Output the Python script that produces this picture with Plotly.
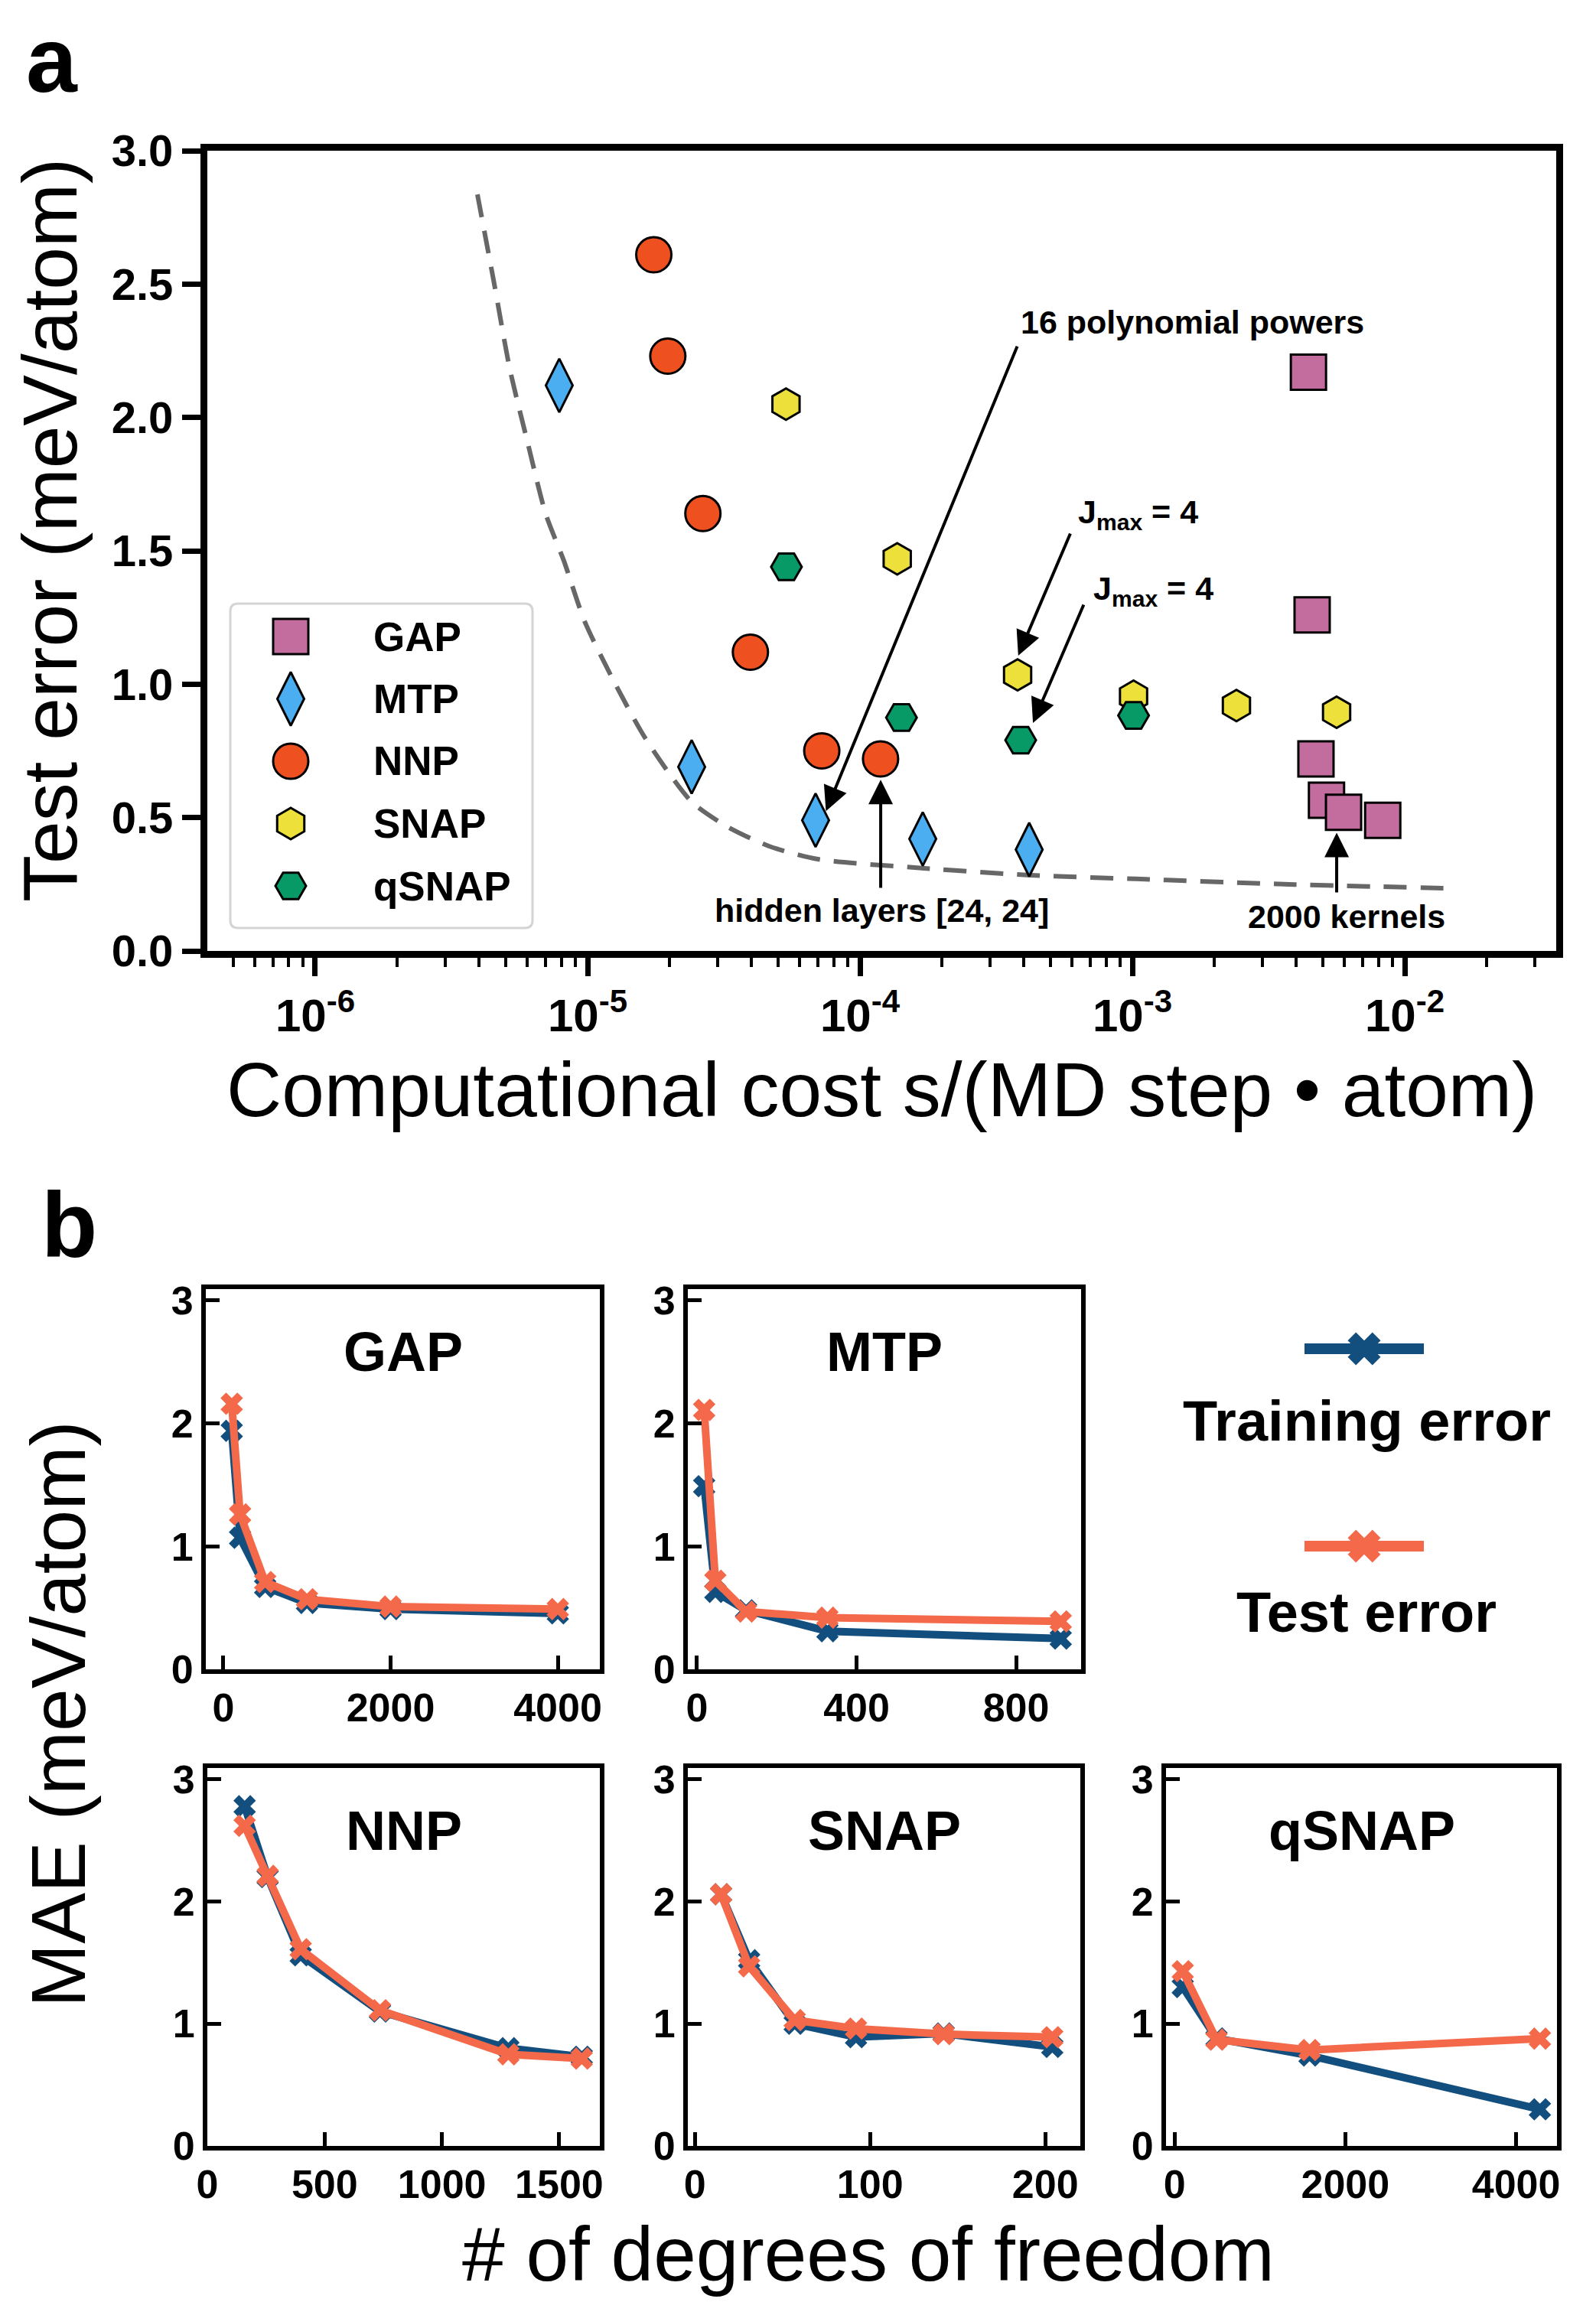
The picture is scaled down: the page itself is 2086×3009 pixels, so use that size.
import plotly.graph_objects as go

W, H = 2086, 3009
FONT = "Liberation Sans, Arial, Helvetica, sans-serif"

# ---------------- Panel a data ----------------
methods = ["GAP", "MTP", "NNP", "SNAP", "qSNAP"]

gap_cost = [4.43e-3, 4.57e-3, 4.72e-3, 5.16e-3, 5.96e-3, 8.30e-3]
gap_err = [2.17, 1.26, 0.72, 0.565, 0.52, 0.49]

mtp_cost = [7.87e-6, 2.41e-5, 6.87e-5, 1.70e-4, 4.18e-4]
mtp_err = [2.12, 0.69, 0.49, 0.42, 0.38]

nnp_cost = [1.75e-5, 1.97e-5, 2.65e-5, 3.96e-5, 7.24e-5, 1.19e-4]
nnp_err = [2.61, 2.23, 1.64, 1.12, 0.75, 0.72]

snap_cost = [5.35e-5, 1.37e-4, 3.79e-4, 1.01e-3, 2.41e-3, 5.62e-3]
snap_err = [2.05, 1.47, 1.035, 0.955, 0.92, 0.895]

qsnap_cost = [5.37e-5, 1.42e-4, 3.89e-4, 1.01e-3]
qsnap_err = [1.44, 0.875, 0.79, 0.883]

front_cost = [3.94e-6, 4.54e-6, 5.18e-6, 6.04e-6, 7.01e-6, 8.18e-6, 9.75e-6, 1.23e-5,
              1.63e-5, 2.41e-5, 3.27e-5, 4.63e-5, 7.0e-5, 1.72e-4, 4.21e-4, 1.03e-3,
              3.94e-3, 1.45e-2]
front_err = [2.836, 2.502, 2.182, 1.901, 1.640, 1.463, 1.236, 1.024, 0.797, 0.559,
             0.465, 0.393, 0.344, 0.310, 0.284, 0.270, 0.249, 0.235]

x_tick_vals_a = [1e-6, 1e-5, 1e-4, 1e-3, 1e-2]
x_tick_text_a = ["10<sup>-6</sup>", "10<sup>-5</sup>", "10<sup>-4</sup>",
                 "10<sup>-3</sup>", "10<sup>-2</sup>"]
y_tick_vals_a = [0, 0.5, 1.0, 1.5, 2.0, 2.5, 3.0]
y_tick_text_a = ["0.0", "0.5", "1.0", "1.5", "2.0", "2.5", "3.0"]

# ---------------- Panel b data ----------------
gap_dof = [100, 200, 500, 1000, 2000, 4000]
gap_train = [1.94, 1.07, 0.67, 0.54, 0.49, 0.455]
gap_test = [2.16, 1.26, 0.71, 0.57, 0.51, 0.49]

mtp_dof = [18, 46, 123, 327, 912]
mtp_train = [1.49, 0.63, 0.48, 0.31, 0.25]
mtp_test = [2.11, 0.72, 0.47, 0.42, 0.39]

nnp_dof = [159, 257, 398, 736, 1283, 1596]
nnp_train = [2.78, 2.20, 1.56, 1.10, 0.80, 0.73]
nnp_test = [2.62, 2.21, 1.61, 1.11, 0.75, 0.715]

snap_dof = [15, 31, 57, 92, 142, 204]
snap_train = [2.06, 1.52, 1.00, 0.89, 0.92, 0.81]
snap_test = [2.06, 1.47, 1.03, 0.96, 0.915, 0.89]

qsnap_dof = [96, 491, 1581, 4279]
qsnap_train = [1.30, 0.88, 0.74, 0.30]
qsnap_test = [1.43, 0.87, 0.785, 0.878]

gap_xticks = [0, 2000, 4000]
mtp_xticks = [0, 400, 800]
nnp_xticks = [0, 500, 1000, 1500]
snap_xticks = [0, 100, 200]
qsnap_xticks = [0, 2000, 4000]
mae_yticks = [0, 1, 2, 3]

series_labels = ["Training error", "Test error"]

# ---------------- styles ----------------
COL = {"GAP": "#C36D9E", "MTP": "#4AAEF0", "NNP": "#EF5020",
       "SNAP": "#EDE03B", "qSNAP": "#079A66"}
SYM = {"GAP": "square", "MTP": "diamond-tall", "NNP": "circle",
       "SNAP": "hexagon", "qSNAP": "hexagon2"}
SIZE = {"GAP": 46, "MTP": 50, "NNP": 46, "SNAP": 41, "qSNAP": 40}
TRAIN_C = "#134F7E"
TEST_C = "#F4694A"


def fx(p):
    return p / W


def fy(p):
    return 1 - p / H


fig = go.Figure()

# ---------------- Panel a ----------------
fig.add_trace(go.Scatter(
    x=front_cost, y=front_err, mode="lines",
    line=dict(color="#676767", width=6, dash="30px,18px", shape="spline", smoothing=0.7),
    xaxis="x", yaxis="y", showlegend=False, hoverinfo="skip"))

series_a = {"GAP": (gap_cost, gap_err), "MTP": (mtp_cost, mtp_err),
            "NNP": (nnp_cost, nnp_err), "SNAP": (snap_cost, snap_err),
            "qSNAP": (qsnap_cost, qsnap_err)}
for m in methods:
    cx, cy = series_a[m]
    fig.add_trace(go.Scatter(
        x=cx, y=cy, mode="markers", name=m,
        marker=dict(symbol=SYM[m], size=SIZE[m], color=COL[m],
                    line=dict(color="black", width=3)),
        xaxis="x", yaxis="y", showlegend=False))

minor_vals = [k * 10.0 ** e for e in range(-7, -1) for k in range(2, 10)]

layout_axes = {}
layout_axes["xaxis"] = dict(
    type="log", range=[-6.396, -1.444], domain=[fx(271), fx(2034)], anchor="y",
    showline=True, linewidth=9, linecolor="black", mirror=True,
    ticks="outside", ticklen=24, tickwidth=7, tickcolor="black",
    tickmode="array", tickvals=x_tick_vals_a, ticktext=x_tick_text_a,
    tickfont=dict(family=FONT, size=60, color="black", weight="bold"),
    minor=dict(tickmode="array", tickvals=minor_vals, ticks="outside",
               ticklen=12, tickwidth=4, tickcolor="black", showgrid=False),
    showgrid=False, zeroline=False, automargin=False)
layout_axes["yaxis"] = dict(
    range=[0, 3.0], domain=[fy(1243), fy(197)], anchor="x",
    showline=True, linewidth=9, linecolor="black", mirror=True,
    ticks="outside", ticklen=24, tickwidth=7, tickcolor="black",
    tickmode="array", tickvals=y_tick_vals_a, ticktext=y_tick_text_a,
    tickfont=dict(family=FONT, size=58, color="black", weight="bold"),
    showgrid=False, zeroline=False, automargin=False)

# ---------------- Panel b ----------------
panels_b = [
    ("GAP", gap_dof, gap_train, gap_test, gap_xticks),
    ("MTP", mtp_dof, mtp_train, mtp_test, mtp_xticks),
    ("NNP", nnp_dof, nnp_train, nnp_test, nnp_xticks),
    ("SNAP", snap_dof, snap_train, snap_test, snap_xticks),
    ("qSNAP", qsnap_dof, qsnap_train, qsnap_test, qsnap_xticks),
]
# pixel boxes (x0, x1, y0, y1) and x ranges for each subplot
boxes_b = [(269, 784, 1685, 2182), (899, 1413, 1685, 2182),
           (271, 784, 2311, 2805), (899, 1412, 2311, 2805),
           (1524, 2035, 2311, 2805)]
xranges_b = [[-210, 4503], [-23, 963], [0, 1673], [-4, 220], [-100, 4479]]
YTOP_B = 3.093

annotations = []
for k, (name, dof, tr, te, xt) in enumerate(panels_b):
    i = k + 2
    x0, x1, y0, y1 = boxes_b[k]
    fig.add_trace(go.Scatter(
        x=dof, y=tr, mode="lines+markers", name=series_labels[0],
        line=dict(color=TRAIN_C, width=10),
        marker=dict(symbol="x", size=26, color=TRAIN_C, line=dict(width=0)),
        xaxis=f"x{i}", yaxis=f"y{i}", showlegend=False))
    fig.add_trace(go.Scatter(
        x=dof, y=te, mode="lines+markers", name=series_labels[1],
        line=dict(color=TEST_C, width=10),
        marker=dict(symbol="x", size=26, color=TEST_C, line=dict(width=0)),
        xaxis=f"x{i}", yaxis=f"y{i}", showlegend=False))
    layout_axes[f"xaxis{i}"] = dict(
        domain=[fx(x0), fx(x1)], range=xranges_b[k], anchor=f"y{i}",
        showline=True, linewidth=6, linecolor="black", mirror=True,
        ticks="inside", ticklen=18, tickwidth=5, tickcolor="black",
        tickmode="array", tickvals=xt,
        tickfont=dict(family=FONT, size=52, color="black", weight="bold"),
        showgrid=False, zeroline=False, automargin=False)
    layout_axes[f"yaxis{i}"] = dict(
        domain=[fy(y1), fy(y0)], range=[0, YTOP_B], anchor=f"x{i}",
        showline=True, linewidth=6, linecolor="black", mirror=True,
        ticks="inside", ticklen=18, tickwidth=5, tickcolor="black",
        tickmode="array", tickvals=mae_yticks,
        tickfont=dict(family=FONT, size=52, color="black", weight="bold"),
        showgrid=False, zeroline=False, automargin=False)
    annotations.append(dict(
        text=name, xref=f"x{i} domain", yref=f"y{i}", x=0.5, y=2.58,
        showarrow=False, xanchor="center", yanchor="middle",
        font=dict(family=FONT, size=72, color="black", weight="bold")))

# ---------------- legend overlay (pixel space) ----------------
layout_axes["xaxis7"] = dict(domain=[0, 1], range=[0, W], anchor="y7", visible=False,
                             fixedrange=True, automargin=False)
layout_axes["yaxis7"] = dict(domain=[0, 1], range=[H, 0], anchor="x7", visible=False,
                             fixedrange=True, automargin=False)

LEG_A_Y0, LEG_A_DY = 832, 81.5
for j, m in enumerate(methods):
    yy = LEG_A_Y0 + LEG_A_DY * j
    fig.add_trace(go.Scatter(
        x=[380], y=[yy], mode="markers",
        marker=dict(symbol=SYM[m], size=SIZE[m], color=COL[m],
                    line=dict(color="black", width=3)),
        xaxis="x7", yaxis="y7", showlegend=False, hoverinfo="skip"))
    annotations.append(dict(
        text=m, xref="paper", yref="paper", x=fx(486), y=fy(yy),
        showarrow=False, xanchor="left", yanchor="middle",
        font=dict(family=FONT, size=53, color="black", weight="bold")))

LEG_B_Y0, LEG_B_DY = 1763, 258
for j, (lab, c) in enumerate(zip(series_labels, [TRAIN_C, TEST_C])):
    yy = LEG_B_Y0 + LEG_B_DY * j
    fig.add_trace(go.Scatter(
        x=[1705, 1861], y=[yy, yy], mode="lines", line=dict(color=c, width=14),
        xaxis="x7", yaxis="y7", showlegend=False, hoverinfo="skip"))
    fig.add_trace(go.Scatter(
        x=[1783], y=[yy], mode="markers",
        marker=dict(symbol="x", size=38, color=c, line=dict(width=0)),
        xaxis="x7", yaxis="y7", showlegend=False, hoverinfo="skip"))
    annotations.append(dict(
        text=lab, xref="paper", yref="paper", x=fx(1786), y=fy(1857 + 250 * j),
        showarrow=False, xanchor="center", yanchor="middle",
        font=dict(family=FONT, size=74, color="black", weight="bold")))


def rounded_rect(x0, y0, x1, y1, r):
    pts = []
    pts.append(f"M {fx(x0 + r)},{fy(y0)}")
    pts.append(f"L {fx(x1 - r)},{fy(y0)}")
    pts.append(f"Q {fx(x1)},{fy(y0)} {fx(x1)},{fy(y0 + r)}")
    pts.append(f"L {fx(x1)},{fy(y1 - r)}")
    pts.append(f"Q {fx(x1)},{fy(y1)} {fx(x1 - r)},{fy(y1)}")
    pts.append(f"L {fx(x0 + r)},{fy(y1)}")
    pts.append(f"Q {fx(x0)},{fy(y1)} {fx(x0)},{fy(y1 - r)}")
    pts.append(f"L {fx(x0)},{fy(y0 + r)}")
    pts.append(f"Q {fx(x0)},{fy(y0)} {fx(x0 + r)},{fy(y0)}")
    pts.append("Z")
    return " ".join(pts)


shapes = [dict(type="path", xref="paper", yref="paper",
               path=rounded_rect(301, 789, 696, 1213, 10),
               line=dict(color="#D4D4D4", width=3), fillcolor="rgba(255,255,255,0.85)",
               layer="below")]

# ---------------- panel a annotations (arrows + labels) ----------------
AFONT = dict(family=FONT, size=43, color="black", weight="bold")
arrows = [
    # (tip_logx, tip_y, tail_logx, tail_y)
    (-4.125, 0.524, -3.421, 2.271),
    (-3.419, 1.107, -3.226, 1.569),
    (-3.365, 0.855, -3.177, 1.302),
    (-3.924, 0.642, -3.924, 0.232),
    (-2.250, 0.443, -2.250, 0.215),
]
for (tx, ty, sx, sy) in arrows:
    annotations.append(dict(
        x=tx, y=ty, xref="x", yref="y", ax=sx, ay=sy, axref="x", ayref="y",
        text="", showarrow=True, arrowhead=2, arrowsize=1.6, arrowwidth=4,
        arrowcolor="black", standoff=0, startstandoff=0))

annotations += [
    dict(text="16 polynomial powers", xref="paper", yref="paper", x=fx(1558), y=fy(421),
         showarrow=False, xanchor="center", yanchor="middle", font=AFONT),
    dict(text="J<sub>max</sub> = 4", xref="paper", yref="paper", x=fx(1407), y=fy(672),
         showarrow=False, xanchor="left", yanchor="middle", font=AFONT),
    dict(text="J<sub>max</sub> = 4", xref="paper", yref="paper", x=fx(1427), y=fy(772),
         showarrow=False, xanchor="left", yanchor="middle", font=AFONT),
    dict(text="hidden layers [24, 24]", xref="paper", yref="paper", x=fx(1152), y=fy(1190),
         showarrow=False, xanchor="center", yanchor="middle", font=AFONT),
    dict(text="2000 kernels", xref="paper", yref="paper", x=fx(1760), y=fy(1198),
         showarrow=False, xanchor="center", yanchor="middle", font=AFONT),
]

# ---------------- titles / panel labels ----------------
TFONT = dict(family=FONT, size=100, color="black")
annotations += [
    dict(text="a", xref="paper", yref="paper", x=fx(68), y=fy(78), showarrow=False,
         xanchor="center", yanchor="middle",
         font=dict(family=FONT, size=120, color="black", weight="bold")),
    dict(text="b", xref="paper", yref="paper", x=fx(90), y=fy(1601), showarrow=False,
         xanchor="center", yanchor="middle",
         font=dict(family=FONT, size=120, color="black", weight="bold")),
    dict(text="Computational cost s/(MD step \u2022 atom)", xref="paper", yref="paper",
         x=fx(1152), y=fy(1424), showarrow=False, xanchor="center", yanchor="middle",
         font=TFONT),
    dict(text="Test error (meV/atom)", xref="paper", yref="paper",
         x=fx(65), y=fy(693), showarrow=False, xanchor="center", yanchor="middle",
         textangle=-90, font=TFONT),
    dict(text="MAE (meV/atom)", xref="paper", yref="paper",
         x=fx(76), y=fy(2241), showarrow=False, xanchor="center", yanchor="middle",
         textangle=-90, font=TFONT),
    dict(text="# of degrees of freedom", xref="paper", yref="paper",
         x=fx(1135), y=fy(2946), showarrow=False, xanchor="center", yanchor="middle",
         font=TFONT),
]

fig.update_layout(
    width=W, height=H, margin=dict(l=0, r=0, t=0, b=0, pad=0, autoexpand=False),
    autosize=False,
    paper_bgcolor="white", plot_bgcolor="rgba(0,0,0,0)",
    showlegend=False, annotations=annotations, shapes=shapes,
    font=dict(family=FONT, color="black"),
    **layout_axes)

fig.write_html("out.html", config={"displayModeBar": False})
